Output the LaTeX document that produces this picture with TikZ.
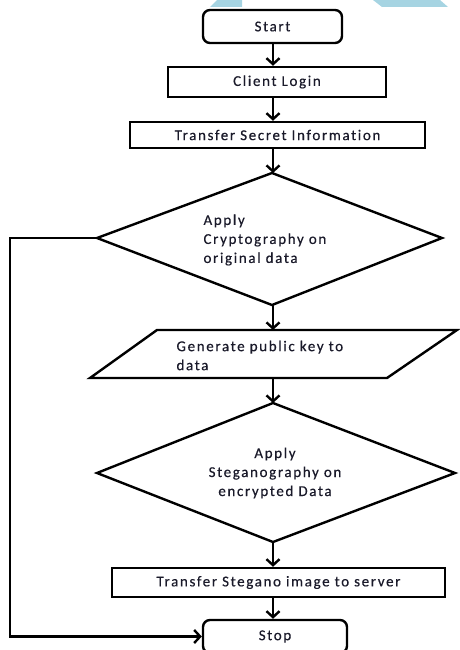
\documentclass[tikz,border=0pt]{standalone}
\usepackage{fontspec}
\setmainfont{Carlito}[LetterSpace=11,Ligatures={NoCommon},FakeBold=0.4]
\usetikzlibrary{arrows.meta,calc}
\definecolor{wmblue}{HTML}{A6D4E2}
\definecolor{txtcol}{HTML}{1A1A2A}
\begin{document}
\begin{tikzpicture}[x=1pt,y=1pt,line width=2.4pt,
  every node/.style={text=txtcol,font=\fontsize{15}{19}\selectfont},
  term/.style={draw,rounded corners=7pt,inner sep=0pt},
  procbox/.style={draw,inner sep=0pt},
  flow/.style={-{Straight Barb[length=6pt,width=13pt,line width=2.4pt]}},
  shapeline/.style={draw,line join=miter}]
\useasboundingbox (0,0) rectangle (460,-650);
\clip (0,0) rectangle (460,-650);
% watermark fragments
\fill[wmblue] (210,-7) -- (242,-7) -- (242,0) -- (217,0) -- cycle;
\fill[wmblue] (373,0) -- (440,0) -- (448,-7) -- (382,-7) -- cycle;

% terminals and process boxes
\node[term,minimum width=139pt,minimum height=33pt] (start) at (272.5,-26.5) {Start};
\node[procbox,minimum width=218pt,minimum height=30pt] (login) at (277,-82) {Client Login};
\node[procbox,minimum width=295pt,minimum height=26pt] (secret) at (277.5,-135) {Transfer Secret Information};

% decision 1
\coordinate (d1t) at (272,-173);
\coordinate (d1b) at (272,-305);
\coordinate (d1l) at (97,-238);
\coordinate (d1r) at (442,-238);
\draw[shapeline] (d1t) -- (d1r) -- (d1b) -- (d1l) -- cycle;
\node[align=left,anchor=west] (d1txt) at (199,-240) {Apply\\Cryptography on\\original data};

% parallelogram
\coordinate (pt) at (272,-330);
\coordinate (pb) at (272,-378);
\draw[shapeline] (157,-330) -- (457,-330) -- (387,-378) -- (90,-378) -- cycle;
\node[align=left,anchor=west] (ptxt) at (172,-355.5) {Generate public key to\\data};

% decision 2
\coordinate (d2t) at (273,-403);
\coordinate (d2b) at (273,-542);
\coordinate (d2l) at (97,-473);
\coordinate (d2r) at (455,-473);
\draw[shapeline] (d2t) -- (d2r) -- (d2b) -- (d2l) -- cycle;
\node[align=center] (d2txt) at (275,-473) {Apply\\Steganography on\\encrypted Data};

\node[procbox,minimum width=333pt,minimum height=29pt] (steg) at (278.5,-582.5) {Transfer Stegano image to server};
\node[term,minimum width=144pt,minimum height=33pt] (stop) at (275,-636.5) {Stop};

% connectors
\draw[flow] (start.south -| 273,0) -- (login.north -| 273,0);
\draw[flow] (login.south -| 273,0) -- (secret.north -| 273,0);
\draw[flow] (secret.south -| 273,0) -- (d1t -| 273,0);
\draw[flow] (d1b -| 273,0) -- (pt -| 273,0);
\draw[flow] (pb -| 273,0) -- (d2t);
\draw[flow] (d2b) -- (steg.north -| d2b);
\draw[flow] (steg.south -| d2b) -- (stop.north -| d2b);
\coordinate (lc) at (10,-238);
\draw[flow,line join=miter] (d1l) -- (lc) |- (stop.west);
\end{tikzpicture}
\end{document}
